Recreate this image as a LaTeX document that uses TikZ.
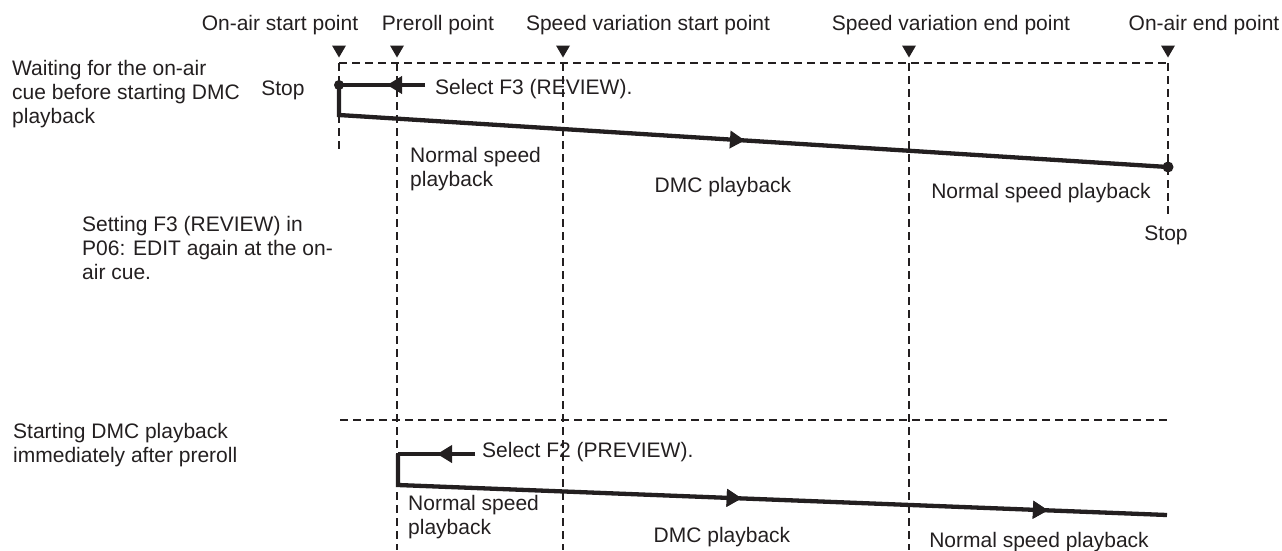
\documentclass[tikz,border=0pt]{standalone}
\usepackage{fontspec}
\setmainfont{Liberation Sans}
\usetikzlibrary{arrows.meta,decorations.markings}
\definecolor{ink}{RGB}{35,31,32}
\begin{document}
\begin{tikzpicture}[x=1pt,y=-1pt,
  lbl/.style={font=\fontsize{21}{24}\selectfont, text=ink, inner sep=0pt, anchor=base},
  blk/.style={font=\fontsize{21}{24}\selectfont, text=ink, inner sep=0pt, align=left, anchor=north west},
  guide/.style={draw=ink, line width=1.6pt, dash pattern=on 8pt off 5pt},
  track/.style={draw=ink, line width=4.3pt, line join=miter},
  arr/.style={postaction=decorate, decoration={markings, mark=at position #1 with {\arrow{Triangle[length=15pt,width=17pt]}}}},
  dot/.style={circle, fill=ink, inner sep=0pt, minimum size=#1}
]
\useasboundingbox (0,0) rectangle (1282,550);

% ---- top labels
\node[lbl] (lOnS) at (280,30) {On-air start point};
\node[lbl] (lPre) at (438,30) {Preroll point};
\node[lbl] (lSvs) at (648,30) {Speed variation start point};
\node[lbl] (lSve) at (951,30) {Speed variation end point};
\node[lbl] (lOnE) at (1204,30) {On-air end point};

% ---- markers
\foreach \x in {339,397,563,909,1168}
  \fill[ink] (\x-7,45.5) -- (\x+7,45.5) -- (\x,57.5) -- cycle;

% ---- guide coordinates
\coordinate (tA) at (339,63);
\coordinate (tB) at (397,63);
\coordinate (tC) at (563,63);
\coordinate (tD) at (909,63);
\coordinate (tE) at (1168,63);
\coordinate (bA) at (339,150);
\coordinate (bB) at (397,550);
\coordinate (bC) at (563,550);
\coordinate (bD) at (909,550);
\coordinate (bE) at (1168,217);
\coordinate (hL) at (340,420);
\coordinate (hR) at (1167,420);

\draw[guide] (tA) -- (tE);
\draw[guide] (tA) -- (bA);
\draw[guide] (tB) -- (bB);
\draw[guide] (tC) -- (bC);
\draw[guide] (tD) -- (bD);
\draw[guide] (tE) -- (bE);
\draw[guide] (hL) -- (hR);

% ---- left descriptions
\node[blk] (w1) at (12,59.7) {Waiting for the on-air\\cue before starting DMC\\playback};
\node[blk] (w2) at (82,215.7) {Setting F3 (REVIEW) in\\P06: EDIT again at the on-\\air cue.};
\node[blk] (w3) at (13,422.7) {Starting DMC playback\\immediately after preroll};

% ---- upper track
\node[dot=10pt] (s1) at (339,85) {};
\coordinate (sel1) at (425,85);
\coordinate (c1) at (339,115);
\node[dot=11pt] (e1) at (1168,167) {};
\draw[track, arr=38pt] (sel1) -- (s1.center);
\draw[track, arr=436.8pt] (s1.center) -- (c1) -- (e1.center);

\node[lbl] (stop1) at (283,95) {Stop};
\node[lbl, anchor=base west] (sel1t) at (435,94) {Select F3 (REVIEW).};
\node[blk] (ns1) at (410,146.7) {Normal speed\\playback};
\node[lbl] (dmc1) at (723,192) {DMC playback};
\node[lbl] (nsp1) at (1041,198) {Normal speed playback};
\node[lbl] (stop2) at (1166,240) {Stop};

% ---- lower track
\coordinate (s2) at (398,454);
\coordinate (sel2) at (475,454);
\coordinate (c2) at (398,485);
\coordinate (e2) at (1167,515);
\draw[track, arr=38pt] (sel2) -- (s2);
\draw[track, arr=375pt, arr=681.5pt] (s2) -- (c2) -- (e2);

\node[lbl, anchor=base west] (sel2t) at (482,457) {Select F2 (PREVIEW).};
\node[blk] (ns2) at (408,494.7) {Normal speed\\playback};
\node[lbl] (dmc2) at (722,542) {DMC playback};
\node[lbl] (nsp2) at (1039,547) {Normal speed playback};
\end{tikzpicture}
\end{document}
